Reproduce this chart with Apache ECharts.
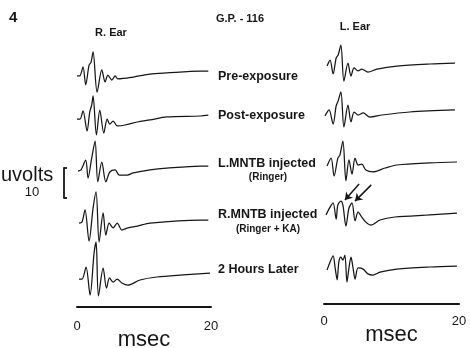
<!DOCTYPE html>
<html>
<head>
<meta charset="utf-8">
<script src="https://cdn.jsdelivr.net/npm/echarts@6/dist/echarts.min.js"></script>
<style>
  html, body { margin: 0; padding: 0; background: #fff; }
  #chart { width: 470px; height: 348px; }
</style>
</head>
<body>
<div id="chart"></div>
<script>
// [msec, µV] pairs
const rEarPre = [[0,-1.3],[0.4,-1.3],[0.9,1.7],[1.3,-4.3],[1.8,2.3],[2.1,3.3],[2.4,6.7],[3.0,-6.7],[3.7,0.7],[4.2,-3.3],[4.6,-1.0],[5.2,-2.7],[5.7,-1.3],[6.1,-2.3],[8.4,-1.7],[10.9,-0.7],[13.4,-0.3],[18.4,0.3],[19.6,0.3]];
const rEarPost = [[0,-1.0],[0.45,-1.0],[0.9,1.7],[1.5,-5.0],[1.9,1.3],[2.2,3.7],[2.4,6.7],[2.9,-6.3],[3.4,2.0],[4.0,-5.7],[4.5,-1.0],[4.9,-2.7],[5.4,-1.7],[6.0,-3.3],[7.2,-3.0],[9.0,-2.0],[10.9,-1.3],[13.4,-0.3],[18.4,0],[19.6,0.3]];
const rEarRinger = [[0.15,-1.7],[0.6,-1.3],[1.3,2.0],[1.65,-4.0],[2.2,2.7],[2.7,8.3],[3.1,-5.3],[3.7,1.3],[4.3,-5.3],[4.9,-2.0],[5.7,-1.3],[6.3,-3.0],[7.5,-3.0],[8.4,-2.3],[10.9,-1.3],[13.4,-0.7],[18.4,0],[19.6,0]];
const rEarKA = [[0.3,-0.7],[0.75,-0.3],[1.2,3.7],[1.8,-6.7],[2.4,4.3],[2.85,9.7],[3.3,-7.0],[3.9,2.7],[4.3,-4.7],[4.8,-0.7],[5.4,-2.3],[6.0,-0.7],[6.7,-3.0],[7.6,-2.3],[9.0,-1.7],[10.9,-0.7],[18.4,0.3],[19.6,0.3]];
const rEarLater = [[0.3,-1.7],[0.75,-1.7],[1.35,2.3],[1.95,-7.0],[2.55,7.0],[2.85,10.7],[3.2,-7.3],[3.9,2.0],[4.4,-4.7],[4.85,-1.3],[5.4,-2.7],[6.0,-1.7],[6.7,-3.0],[7.6,-3.7],[9.4,-2.0],[11.9,-1.0],[15.8,-0.3],[19.85,0.3]];

const lEarPre = [[0.45,-0.7],[0.9,1.3],[1.35,-3.3],[1.8,2.0],[2.1,3.0],[2.5,6.3],[2.95,-5.7],[3.55,0.3],[4.0,-4.0],[4.45,-1.3],[5.05,-2.3],[5.6,-1.7],[6.5,-2.7],[7.85,-1.7],[10.8,-0.7],[15.7,0],[19.4,0.3]];
const lEarPost = [[0.15,-1.3],[0.75,0.7],[1.35,-4.0],[1.8,2.0],[2.1,3.7],[2.5,6.7],[2.95,-5.0],[3.55,2.3],[4.0,-3.3],[4.45,0],[5.05,-1.0],[5.8,-0.3],[6.8,-1.7],[8.6,-1.0],[12.7,0],[19.4,0.7]];
const lEarRinger = [[0.45,-1.3],[1.05,1.3],[1.5,-4.7],[2.05,1.3],[2.35,2.3],[2.8,7.0],[3.25,-6.3],[3.7,0.7],[4.15,-4.0],[4.6,1.3],[5.05,-1.0],[5.6,-0.7],[6.2,-2.7],[7.25,-3.3],[9.05,-2.0],[10.8,-1.0],[15.7,-0.3],[19.7,0]];
const lEarKA = [[0.3,-0.3],[0.9,2.3],[1.35,3.7],[1.8,-1.7],[2.05,3.0],[2.5,4.3],[2.8,3.0],[3.25,-4.0],[3.7,2.0],[4.15,3.7],[4.6,-2.3],[5.05,0.7],[5.5,-0.7],[6.2,-2.7],[6.95,-3.7],[8.3,-2.0],[10.5,-1.0],[15.7,-0.3],[19.7,0.3]];
const lEarLater = [[0.45,-1.0],[0.9,1.7],[1.35,3.7],[1.65,-0.3],[1.95,-4.3],[2.2,1.7],[2.5,3.3],[2.8,2.3],[3.1,4.0],[3.4,-5.0],[3.7,-0.3],[4.0,3.3],[4.3,-0.3],[4.6,-4.0],[5.05,-0.3],[5.8,-0.7],[6.5,-2.3],[7.25,-2.7],[8.3,-1.7],[10.8,-0.7],[15.7,0],[19.7,0.3]];

// arrows on L. Ear, Ringer + KA trace: [from, to] in [msec, µV]
const kaArrows = [[[5.2,10.0],[3.1,4.7]], [[7.0,9.7],[4.6,4.3]]];

const conditions = ["Pre-exposure", "Post-exposure", "L.MNTB injected", "R.MNTB injected", "2 Hours Later"];
const subLabels = ["", "", "(Ringer)", "(Ringer + KA)", ""];
const timeTicks = [0, 20];
const voltScale = [0, 10];

const rEar = [rEarPre, rEarPost, rEarRinger, rEarKA, rEarLater];
const lEar = [lEarPre, lEarPost, lEarRinger, lEarKA, lEarLater];

const FONT = '"Liberation Sans", Arial, sans-serif';
const INK = "#161616";
const rowR = [72, 116, 166, 221, 274];
const rowL = [64, 112, 162, 214, 267];

const chart = echarts.init(document.getElementById("chart"), null, { renderer: "canvas" });

const grid = [], xAxis = [], yAxis = [], series = [];

function addGrid(left, width, top, height) {
  grid.push({ left: left, width: width, top: top, height: height, outerBoundsMode: "none", containLabel: false });
  return grid.length - 1;
}

function addTrace(data, left, width, y0, arrows) {
  const idx = addGrid(left, width, y0 - 45, 90);
  xAxis.push({ gridIndex: idx, type: "value", min: 0, max: 20, show: false });
  yAxis.push({ gridIndex: idx, type: "value", min: -15, max: 15, show: false });
  const s = {
    type: "line",
    xAxisIndex: idx,
    yAxisIndex: idx,
    data: data,
    showSymbol: false,
    smooth: 0.3,
    silent: true,
    lineStyle: { color: INK, width: 1.25 },
  };
  if (arrows) {
    s.markLine = {
      silent: true,
      symbol: ["none", "arrow"],
      symbolSize: 7,
      label: { show: false },
      lineStyle: { color: INK, width: 1.5, type: "solid" },
      data: arrows.map(([a, b]) => [{ coord: a }, { coord: b }]),
    };
  }
  series.push(s);
}

rEar.forEach((d, i) => addTrace(d, 77, 134, rowR[i]));
lEar.forEach((d, i) => addTrace(d, 324, 135, rowL[i], i === 3 ? kaArrows : null));

// time scale bars
function addTimeBar(left, width, top, labelMargin, nameGap) {
  const idx = addGrid(left, width, top - 6, 6);
  xAxis.push({
    gridIndex: idx, type: "value", min: timeTicks[0], max: timeTicks[1], interval: 20,
    axisLine: { show: true, onZero: false, lineStyle: { color: INK, width: 2 } },
    axisTick: { show: false },
    splitLine: { show: false },
    axisLabel: { color: INK, fontSize: 13, fontFamily: FONT, margin: labelMargin },
    name: "msec", nameLocation: "middle", nameGap: nameGap, nameMoveOverlap: false,
    nameTextStyle: { color: INK, fontSize: 22, fontFamily: FONT, verticalAlign: "middle" },
  });
  yAxis.push({ gridIndex: idx, type: "value", min: 0, max: 1, show: false });
}
addTimeBar(77, 134, 307, 13, 33);
addTimeBar(324, 135, 304, 11, 31);

// 10 µV bracket
{
  const idx = addGrid(64, 10, 168, 30);
  xAxis.push({ gridIndex: idx, type: "value", show: false });
  yAxis.push({
    gridIndex: idx, type: "value", min: voltScale[0], max: voltScale[1], interval: 10,
    position: "left",
    axisLine: { show: true, lineStyle: { color: INK, width: 1.8 } },
    axisTick: { show: true, inside: true, length: 3, lineStyle: { color: INK, width: 1.8 } },
    axisLabel: { show: false },
    splitLine: { show: false },
  });
}

function txt(text, x, y, size, weight, align) {
  return {
    type: "text", x: x, y: y, silent: true,
    style: {
      text: text, fill: INK,
      font: (weight || "normal") + " " + size + "px " + FONT,
      textAlign: align || "left", textVerticalAlign: "middle",
      align: align || "left", verticalAlign: "middle",
    },
  };
}

const graphic = [
  txt("4", 9, 18, 15, "bold"),
  txt("G.P. - 116", 216, 19, 11, "bold"),
  txt("R. Ear", 111, 33, 11, "bold", "center"),
  txt("L. Ear", 355, 27, 11, "bold", "center"),
  txt("uvolts", 1, 175, 20),
  txt("10", 32, 192, 13, "normal", "center"),
];
conditions.forEach((c, i) => {
  graphic.push(txt(c, 218, [77, 116, 164, 215, 270][i], 12.5, "bold"));
  if (subLabels[i]) graphic.push(txt(subLabels[i], 268, [0, 0, 177, 229, 0][i], 10, "bold", "center"));
});

chart.setOption({
  animation: false,
  backgroundColor: "#fff",
  grid: grid,
  xAxis: xAxis,
  yAxis: yAxis,
  series: series,
  graphic: graphic,
});
</script>
</body>
</html>
